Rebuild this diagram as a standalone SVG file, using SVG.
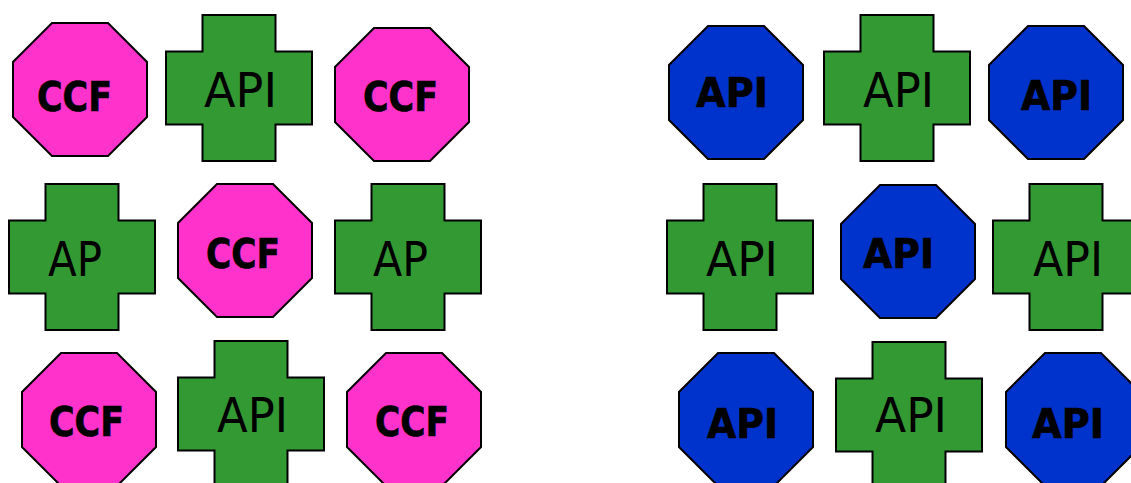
<svg xmlns="http://www.w3.org/2000/svg" xmlns:xlink="http://www.w3.org/1999/xlink" width="1131" height="483" viewBox="0 0 1131 483">
  <style>
    .shape { stroke: #000; stroke-width: 2; stroke-linejoin: miter; }
    .ccf { fill: #FF33CC; }
    .blue { fill: #0033CC; }
    .green { fill: #339933; }
    .bold { font-family: "DejaVu Sans", "Liberation Sans", sans-serif; font-weight: bold; font-size: 41px; fill: #000; stroke: #000; stroke-width: 0.7; }
    .reg { font-family: "DejaVu Sans", "Liberation Sans", sans-serif; font-size: 48px; fill: #000; }
  </style>
  <defs>
    <!-- regular octagon, 134 x 133 -->
    <polygon id="oct" points="39,0 95,0 134,39 134,94 95,133 39,133 0,94 0,39"/>
    <!-- plus-shaped cross, 146 x 146 -->
    <polygon id="cross" points="36.5,0 109.5,0 109.5,36.5 146,36.5 146,109.5 109.5,109.5 109.5,146 36.5,146 36.5,109.5 0,109.5 0,36.5 36.5,36.5"/>
  </defs>
  <rect width="1131" height="483" fill="#fff"/>

  <!-- left block -->
  <g id="ccf-1"><use xlink:href="#oct" class="shape ccf" x="13" y="23"/><text class="bold" x="37" y="111" textLength="75" lengthAdjust="spacingAndGlyphs">CCF</text></g>
  <g id="api-1"><use xlink:href="#cross" class="shape green" x="166" y="15"/><text class="reg" x="204" y="107" textLength="73" lengthAdjust="spacingAndGlyphs">API</text></g>
  <g id="ccf-2"><use xlink:href="#oct" class="shape ccf" x="335" y="28"/><text class="bold" x="363" y="111" textLength="75" lengthAdjust="spacingAndGlyphs">CCF</text></g>

  <g id="ap-1"><use xlink:href="#cross" class="shape green" x="9" y="184"/><text class="reg" x="48" y="276" textLength="54" lengthAdjust="spacingAndGlyphs">AP</text></g>
  <g id="ccf-3"><use xlink:href="#oct" class="shape ccf" x="178" y="184"/><text class="bold" x="206" y="268" textLength="74" lengthAdjust="spacingAndGlyphs">CCF</text></g>
  <g id="ap-2"><use xlink:href="#cross" class="shape green" x="335" y="184"/><text class="reg" x="373" y="276" textLength="55" lengthAdjust="spacingAndGlyphs">AP</text></g>

  <g id="ccf-4"><use xlink:href="#oct" class="shape ccf" x="22" y="353"/><text class="bold" x="49" y="436" textLength="75" lengthAdjust="spacingAndGlyphs">CCF</text></g>
  <g id="api-2"><use xlink:href="#cross" class="shape green" x="178" y="341"/><text class="reg" x="217" y="432" textLength="71" lengthAdjust="spacingAndGlyphs">API</text></g>
  <g id="ccf-5"><use xlink:href="#oct" class="shape ccf" x="347" y="353"/><text class="bold" x="375" y="436" textLength="74" lengthAdjust="spacingAndGlyphs">CCF</text></g>

  <!-- right block -->
  <g id="api-b1"><use xlink:href="#oct" class="shape blue" x="669" y="26"/><text class="bold" x="696" y="107" textLength="72" lengthAdjust="spacingAndGlyphs">API</text></g>
  <g id="api-g1"><use xlink:href="#cross" class="shape green" x="824" y="15"/><text class="reg" x="863" y="107" textLength="71" lengthAdjust="spacingAndGlyphs">API</text></g>
  <g id="api-b2"><use xlink:href="#oct" class="shape blue" x="989" y="26"/><text class="bold" x="1021" y="110" textLength="71" lengthAdjust="spacingAndGlyphs">API</text></g>

  <g id="api-g2"><use xlink:href="#cross" class="shape green" x="667" y="184"/><text class="reg" x="706" y="276" textLength="72" lengthAdjust="spacingAndGlyphs">API</text></g>
  <g id="api-b3"><use xlink:href="#oct" class="shape blue" x="841" y="185"/><text class="bold" x="863" y="268" textLength="71" lengthAdjust="spacingAndGlyphs">API</text></g>
  <g id="api-g3"><use xlink:href="#cross" class="shape green" x="993" y="184"/><text class="reg" x="1033" y="276" textLength="70" lengthAdjust="spacingAndGlyphs">API</text></g>

  <g id="api-b4"><use xlink:href="#oct" class="shape blue" x="679" y="353"/><text class="bold" x="707" y="438" textLength="71" lengthAdjust="spacingAndGlyphs">API</text></g>
  <g id="api-g4"><use xlink:href="#cross" class="shape green" x="836" y="342"/><text class="reg" x="875" y="432" textLength="72" lengthAdjust="spacingAndGlyphs">API</text></g>
  <g id="api-b5"><use xlink:href="#oct" class="shape blue" x="1006" y="353"/><text class="bold" x="1032" y="438" textLength="72" lengthAdjust="spacingAndGlyphs">API</text></g>
</svg>
